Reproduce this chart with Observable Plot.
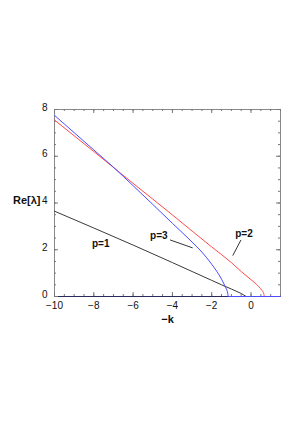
<!DOCTYPE html>
<html><head><meta charset="utf-8">
<script src="https://cdn.jsdelivr.net/npm/d3@7"></script>
<script src="https://cdn.jsdelivr.net/npm/@observablehq/plot@0.6"></script>
<style>
html,body{margin:0;padding:0;background:#fff;}
svg{font-family:"Liberation Sans",Arial,sans-serif;}
</style></head>
<body><div id="chart"></div>
<script>
// Data
const p1X = [-10, -8, -6, -4, -3, -2, -1.5, -1, -0.5, -0.25, 1.5];
const p1Y = [3.65, 2.93, 2.2, 1.45, 1.07, 0.69, 0.5, 0.32, 0.13, 0, 0];
const p2X = [-10, -8, -6, -4, -3, -2, -1, -0.5, 0, 0.2, 0.4, 0.55, 0.65, 0.68, 1.5];
const p2Y = [7.55, 6.2, 4.84, 3.49, 2.8, 2.12, 1.45, 1.07, 0.72, 0.58, 0.42, 0.27, 0.12, 0, 0];
const p3X = [-10, -9, -8, -7, -6, -5, -4, -3, -2.5, -2, -1.5, -1.3, -1.2, -1.15, 1.5];
const p3Y = [7.75, 7.01, 6.27, 5.53, 4.74, 3.94, 3.13, 2.33, 1.9, 1.38, 0.74, 0.4, 0.2, 0, 0];
const xTickLabels = [-10, -8, -6, -4, -2, 0];
const yTickLabels = [0, 2, 4, 6, 8];
const seriesNames = ["p=1", "p=2", "p=3"];
const labelX = [-7.65, -0.36, -4.69];
const labelY = [2.26, 2.69, 2.6];
const leaderX1 = [-0.51, -4.12], leaderY1 = [2.42, 2.42];
const leaderX2 = [-0.93, -2.97], leaderY2 = [1.75, 2.08];

const mk = (xs, ys) => xs.map((x, i) => ({x, y: ys[i]}));
const minorX = d3.range(-10, 1.5001, 0.5);
const minorY = d3.range(0, 8.0001, 0.5);
const majorX = d3.range(-10, 1.5001, 2);
const majorY = d3.range(0, 8.0001, 2);

const ML = 54, MR = 20, MT = 109, MB = 128, W = 300, H = 424;
const pxX = 11.5 / (W - ML - MR), pxY = 8 / (H - MT - MB);

const labels = seriesNames.map((t, i) => ({t, x: labelX[i], y: labelY[i]}));
const leaders = leaderX1.map((x, i) => ({x1: x, y1: leaderY1[i], x2: leaderX2[i], y2: leaderY2[i]}));

const plot = Plot.plot({
  width: W, height: H,
  marginLeft: ML, marginRight: MR, marginTop: MT, marginBottom: MB,
  x: {domain: [-10, 1.5]},
  y: {domain: [0, 8]},
  style: {fontFamily: "Liberation Sans, Arial, sans-serif", fontSize: "10px", color: "#111"},
  marks: [
    Plot.frame({stroke: "#888", strokeWidth: 1}),
    Plot.ruleY([0], {stroke: "#2a2a5a", strokeWidth: 1.2}),
    // inward ticks: bottom & top
    Plot.ruleX(minorX, {y1: 0, y2: 2 * pxY, stroke: "#777"}),
    Plot.ruleX(minorX, {y1: 8, y2: 8 - 2 * pxY, stroke: "#777"}),
    Plot.ruleX(majorX, {y1: 0, y2: 4 * pxY, stroke: "#777"}),
    Plot.ruleX(majorX, {y1: 8, y2: 8 - 4 * pxY, stroke: "#777"}),
    // inward ticks: left & right
    Plot.ruleY(minorY, {x1: -10, x2: -10 + 2 * pxX, stroke: "#777"}),
    Plot.ruleY(minorY, {x1: 1.5, x2: 1.5 - 2 * pxX, stroke: "#777"}),
    Plot.ruleY(majorY, {x1: -10, x2: -10 + 4 * pxX, stroke: "#777"}),
    Plot.ruleY(majorY, {x1: 1.5, x2: 1.5 - 4 * pxX, stroke: "#777"}),
    Plot.axisX(xTickLabels, {tickSize: 0, tickPadding: 5, tickFormat: d => d < 0 ? "\u2212" + Math.abs(d) : String(d), fontSize: 10, label: null}),
    Plot.axisY(yTickLabels, {tickSize: 0, tickPadding: 7, dy: -2, fontSize: 10, label: null}),
    Plot.line(mk(p1X, p1Y), {x: "x", y: "y", stroke: "#3a3a3a", strokeWidth: 1}),
    Plot.line(mk(p2X, p2Y), {x: "x", y: "y", stroke: "#ff4a4a", strokeWidth: 1, curve: "monotone-x"}),
    Plot.line(mk(p3X, p3Y), {x: "x", y: "y", stroke: "#4d4dff", strokeWidth: 1, curve: "monotone-x"}),
    Plot.link(leaders, {x1: "x1", y1: "y1", x2: "x2", y2: "y2", stroke: "#333", strokeWidth: 1}),
    Plot.text(labels, {x: "x", y: "y", text: "t", fontWeight: "bold", fontSize: 10, fill: "#111"}),
    Plot.text(["\u2212k"], {frameAnchor: "bottom", dy: 26, fontWeight: "bold", fontSize: 11, fill: "#111"}),
    Plot.text(["Re[\u03bb]"], {x: -10, y: 4.1, dx: -14, textAnchor: "end", fontWeight: "bold", fontSize: 11, fill: "#111"})
  ]
});
document.getElementById("chart").appendChild(plot);
</script>
</body></html>
